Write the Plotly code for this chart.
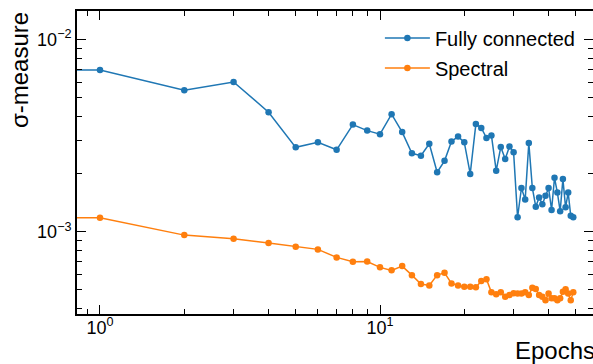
import plotly.graph_objects as go

# ---- data ----
epochs = list(range(0, 50))
fully_connected = [
    0.00720,
    0.00695, 0.00545, 0.00602, 0.00419, 0.00275, 0.00292, 0.00267, 0.00361, 0.00336, 0.00322,
    0.00409, 0.00330, 0.00256, 0.00249, 0.00287, 0.00204, 0.00234, 0.00295, 0.00313, 0.00292,
    0.00200, 0.00364, 0.00347, 0.00308, 0.00317, 0.00208, 0.00276, 0.00239, 0.00278, 0.00259,
    0.00119, 0.00169, 0.00147, 0.00290, 0.00169, 0.00135, 0.00151, 0.00139, 0.00154, 0.00169,
    0.00130, 0.00191, 0.00160, 0.00128, 0.00188, 0.00134, 0.00160, 0.00121, 0.00119,
]
spectral = [
    0.001250,
    0.001183, 0.000961, 0.000920, 0.000874, 0.000836, 0.000810, 0.000736, 0.000698, 0.000700, 0.000653,
    0.000630, 0.000663, 0.000595, 0.000535, 0.000526, 0.000595, 0.000612, 0.000539, 0.000526, 0.000518,
    0.000518, 0.000514, 0.000554, 0.000566, 0.000484, 0.000473, 0.000484, 0.000459, 0.000469, 0.000479,
    0.000478, 0.000478, 0.000484, 0.000469, 0.000512, 0.000504, 0.000469, 0.000459, 0.000441, 0.000478,
    0.000451, 0.000451, 0.000441, 0.000451, 0.000488, 0.000502, 0.000478, 0.000441, 0.000484,
]
series_names = ["Fully connected", "Spectral"]
series_colors = ["#1f77b4", "#ff7f0e"]

x_major_vals = [1, 10]
x_tick_labels = ["10<sup>0</sup>", "10<sup>1</sup>"]
x_minor_vals = [0.9, 2, 3, 4, 5, 6, 7, 8, 9, 20, 30, 40, 50]
y_major_vals = [1e-3, 1e-2]
y_tick_labels = ["10<sup>\u22123</sup>", "10<sup>\u22122</sup>"]
y_minor_vals = [4e-4, 5e-4, 6e-4, 7e-4, 8e-4, 9e-4,
                2e-3, 3e-3, 4e-3, 5e-3, 6e-3, 7e-3, 8e-3, 9e-3]

# matplotlib-like clipping of non-positive values on a log axis
x_plot = [e if e > 0 else 1e-300 for e in epochs]

fig = go.Figure()
for name, ys, col, grp in zip(series_names, [fully_connected, spectral], series_colors, ["a", "b"]):
    fig.add_trace(go.Scatter(
        x=x_plot, y=ys, mode="lines+markers", name=name, legendgroup=grp,
        line=dict(color=col, width=1.5),
        marker=dict(size=6.5, color=col),
    ))

axis_common = dict(
    showgrid=False, zeroline=False, showline=True, linecolor="black", linewidth=1.8,
    mirror="ticks", ticks="inside", ticklen=9, tickwidth=1, tickcolor="black",
    tickmode="array", tickfont=dict(size=18, color="black"),
)

fig.update_xaxes(
    type="log", range=[-0.0821, 1.7607],
    tickvals=x_major_vals, ticktext=x_tick_labels, ticklabelstandoff=-4,
    minor=dict(tickmode="array", tickvals=x_minor_vals, ticks="inside",
               ticklen=5, tickwidth=1, tickcolor="black", showgrid=False),
    **axis_common,
)
fig.update_yaxes(
    type="log", range=[-3.4277, -1.8514],
    tickvals=y_major_vals, ticktext=y_tick_labels,
    minor=dict(tickmode="array", tickvals=y_minor_vals, ticks="inside",
               ticklen=5, tickwidth=1, tickcolor="black", showgrid=False),
    **axis_common,
)

fig.update_layout(
    width=593, height=364,
    margin=dict(l=77, r=0, t=11, b=50, autoexpand=False),
    paper_bgcolor="white", plot_bgcolor="white",
    font=dict(family="Liberation Sans, Arial, sans-serif", size=18, color="black"),
    showlegend=True,
    legend=dict(
        x=0.587, y=0.975, xanchor="left", yanchor="top",
        bgcolor="rgba(0,0,0,0)", borderwidth=0,
        font=dict(size=20, color="black"),
        itemwidth=45, tracegroupgap=1, traceorder="grouped",
    ),
    annotations=[
        dict(text="\u03c3-measure", xref="paper", yref="paper",
             x=-0.1124, y=1.003, xanchor="center", yanchor="top",
             textangle=-90, showarrow=False, font=dict(size=24, color="black")),
        dict(text="Epochs", xref="paper", yref="paper",
             x=1.0068, y=-0.122, xanchor="right", yanchor="middle",
             showarrow=False, font=dict(size=24, color="black")),
    ],
)

fig.write_html(
    "out.html",
    config={"displayModeBar": False},
    post_script="document.documentElement.style.margin='0';"
                "document.body.style.margin='0';"
                "document.body.style.overflow='hidden';",
)
